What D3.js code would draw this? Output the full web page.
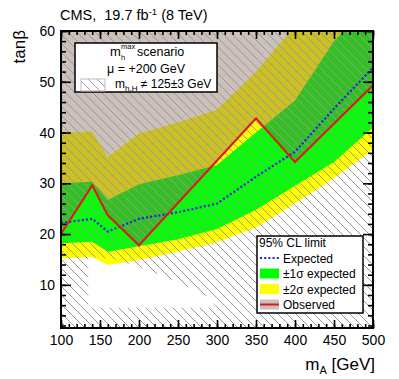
<!DOCTYPE html>
<html>
<head>
<meta charset="utf-8">
<script src="https://cdn.jsdelivr.net/npm/d3@7"></script>
<style>
  body { margin: 0; background: white; }
  text { font-family: "Liberation Sans", Arial, sans-serif; white-space: pre; }
</style>
</head>
<body>
<script>
// mA points of the expected limit and its bands
const massPoints = [100, 140, 160, 200, 250, 300, 350, 400, 450, 500];
const expected = [22.2, 23.0, 20.5, 23.0, 24.3, 26.0, 31.3, 36.2, 44.7, 52.8];
const sigma1Low = [18.2, 18.5, 16.5, 17.6, 19.0, 21.0, 24.8, 29.5, 34.2, 41.0];
const sigma1High = [30.0, 30.3, 26.7, 29.8, 31.6, 33.6, 40.0, 46.3, 58.0, 66.0];
const sigma2Low = [15.2, 15.5, 13.9, 14.9, 16.5, 18.4, 21.3, 26.0, 31.0, 36.6];
const sigma2High = [39.9, 40.2, 35.2, 39.8, 42.0, 44.5, 52.0, 61.0, 70.0, 80.0];

// observed limit
const obsMass = [100, 140, 160, 200, 350, 400, 500];
const observed = [20.0, 29.6, 23.7, 17.8, 42.8, 34.2, 49.3];

// region where m_h or m_H is compatible with 125+-3 GeV (not hatched)
const allowedMass = [135, 135, 170, 200, 250, 290, 300];
const allowedTan = [5.5, 15.5, 15.0, 13.5, 10.5, 7.5, 5.5];

const xMajor = [100, 150, 200, 250, 300, 350, 400, 450, 500];
const yMajor = [10, 20, 30, 40, 50, 60];

const w = 399;
const h = 379;
const padL = 61, padR = 373, padT = 31, padB = 328;

const x = d3.scaleLinear().domain([100, 500]).range([padL, padR]);
const y = d3.scaleLinear().domain([1.5, 60]).range([padB, padT]);

const svg = d3.select("body").append("svg")
  .attr("width", w)
  .attr("height", h);

const defs = svg.append("defs");
defs.append("clipPath").attr("id", "plot")
  .append("rect")
  .attr("x", padL).attr("y", padT)
  .attr("width", padR - padL).attr("height", padB - padT);

const pat = defs.append("pattern")
  .attr("id", "hatch")
  .attr("patternUnits", "userSpaceOnUse")
  .attr("width", 9).attr("height", 9);
pat.append("path")
  .attr("d", "M-1,-1 L10,10 M-1,8 L1,10 M8,-1 L10,1")
  .attr("stroke", "#999999")
  .attr("stroke-width", 1);

const bands = massPoints.map((m, i) => ({
  m: m,
  exp: expected[i],
  lo1: sigma1Low[i], hi1: sigma1High[i],
  lo2: sigma2Low[i], hi2: sigma2High[i],
}));

const plot = svg.append("g").attr("clip-path", "url(#plot)");

plot.append("rect")
  .attr("x", padL).attr("y", padT)
  .attr("width", padR - padL).attr("height", padB - padT)
  .attr("fill", "white");

const area2 = d3.area().x(d => x(d.m)).y0(d => y(d.lo2)).y1(d => y(d.hi2));
const area1 = d3.area().x(d => x(d.m)).y0(d => y(d.lo1)).y1(d => y(d.hi1));

plot.append("path").attr("d", area2(bands)).attr("fill", "#ffff00");
plot.append("path").attr("d", area1(bands)).attr("fill", "#00ff00");

// observed excluded region: everything above the observed line
const obsPts = obsMass.map((m, i) => [x(m), y(observed[i])]);
const obsRegion = [[x(100), y(100)]].concat(obsPts, [[x(500), y(100)]]);
plot.append("path")
  .attr("d", d3.line()(obsRegion) + "Z")
  .attr("fill", "rgb(127,97,85)")
  .attr("fill-opacity", 0.4);

// hatch everywhere except the allowed region
const allowedPts = allowedMass.map((m, i) => [x(m), y(allowedTan[i])]);
const frame = `M${padL},${padT}H${padR}V${padB}H${padL}Z`;
plot.append("path")
  .attr("d", frame + d3.line()(allowedPts) + "Z")
  .attr("fill-rule", "evenodd")
  .attr("fill", "url(#hatch)");

plot.append("path")
  .attr("d", d3.line().x(d => x(d.m)).y(d => y(d.exp))(bands))
  .attr("fill", "none")
  .attr("stroke", "#2020e8")
  .attr("stroke-width", 2.2)
  .attr("stroke-dasharray", "2,2.2");

plot.append("path")
  .attr("d", d3.line()(obsPts))
  .attr("fill", "none")
  .attr("stroke", "#e0161c")
  .attr("stroke-width", 2);

// axes with inward ticks on all four sides
function styleAxis(g) {
  g.select(".domain").remove();
  g.selectAll("line").attr("stroke", "black").attr("stroke-width", 1.6);
  g.selectAll("text")
    .attr("font-size", 14)
    .attr("font-family", "Liberation Sans, Arial, sans-serif")
    .attr("fill", "black");
}

svg.append("g")
  .attr("transform", `translate(0,${padB})`)
  .call(d3.axisBottom(x).tickValues(d3.range(100, 501, 10)).tickSize(-4).tickFormat(""))
  .call(styleAxis);
svg.append("g")
  .attr("transform", `translate(0,${padB})`)
  .call(d3.axisBottom(x).tickValues(xMajor).tickSize(-8).tickPadding(7).tickFormat(d3.format("d")))
  .call(styleAxis);
svg.append("g")
  .attr("transform", `translate(0,${padT})`)
  .call(d3.axisTop(x).tickValues(d3.range(100, 501, 10)).tickSize(-4).tickFormat(""))
  .call(styleAxis);
svg.append("g")
  .attr("transform", `translate(0,${padT})`)
  .call(d3.axisTop(x).tickValues(xMajor).tickSize(-8).tickFormat(""))
  .call(styleAxis);

svg.append("g")
  .attr("transform", `translate(${padL},0)`)
  .call(d3.axisLeft(y).tickValues(d3.range(2, 61, 2)).tickSize(-5).tickFormat(""))
  .call(styleAxis);
svg.append("g")
  .attr("transform", `translate(${padL},0)`)
  .call(d3.axisLeft(y).tickValues(yMajor).tickSize(-10).tickPadding(6).tickFormat(d3.format("d")))
  .call(styleAxis);
svg.append("g")
  .attr("transform", `translate(${padR},0)`)
  .call(d3.axisRight(y).tickValues(d3.range(2, 61, 2)).tickSize(-5).tickFormat(""))
  .call(styleAxis);
svg.append("g")
  .attr("transform", `translate(${padR},0)`)
  .call(d3.axisRight(y).tickValues(yMajor).tickSize(-10).tickFormat(""))
  .call(styleAxis);

svg.append("rect")
  .attr("x", padL).attr("y", padT)
  .attr("width", padR - padL).attr("height", padB - padT)
  .attr("fill", "none")
  .attr("stroke", "black")
  .attr("stroke-width", 2);

// titles
const title = svg.append("text").attr("x", 60).attr("y", 20).attr("font-size", 14.5);
title.append("tspan").text("CMS,  19.7 fb");
title.append("tspan").attr("font-size", 9.5).attr("dy", -5).text("-1");
title.append("tspan").attr("dy", 5).text(" (8 TeV)");

svg.append("text")
  .attr("transform", "translate(25,30) rotate(-90)")
  .attr("text-anchor", "end")
  .attr("font-size", 17)
  .text("tanβ");

const xl = svg.append("text")
  .attr("x", 375).attr("y", 370)
  .attr("text-anchor", "end")
  .attr("font-size", 17);
xl.append("tspan").text("m");
xl.append("tspan").attr("font-size", 11).attr("dy", 4).text("A");
xl.append("tspan").attr("dy", -4).text(" [GeV]");

// top-left legend
const lg1 = svg.append("g");
lg1.append("rect")
  .attr("x", 75).attr("y", 43).attr("width", 142).attr("height", 49)
  .attr("fill", "white").attr("stroke", "black").attr("stroke-width", 1.5);
lg1.append("text").attr("x", 110).attr("y", 56).attr("font-size", 13).text("m");
lg1.append("text").attr("x", 121).attr("y", 49).attr("font-size", 7.5).text("max");
lg1.append("text").attr("x", 121).attr("y", 60).attr("font-size", 7.5).text("h");
lg1.append("text").attr("x", 137).attr("y", 56).attr("font-size", 12.5).text("scenario");
lg1.append("text").attr("x", 146).attr("y", 73).attr("font-size", 12.5)
  .attr("text-anchor", "middle").text("μ = +200 GeV");
lg1.append("rect")
  .attr("x", 81).attr("y", 79).attr("width", 24).attr("height", 12)
  .attr("fill", "url(#hatch)").attr("stroke", "#bbbbbb").attr("stroke-width", 1);
const mh = lg1.append("text").attr("x", 115).attr("y", 88).attr("font-size", 12);
mh.append("tspan").text("m");
mh.append("tspan").attr("font-size", 8).attr("dy", 3).text("h,H");
mh.append("tspan").attr("dy", -3).text(" ≠ 125±3 GeV");

// bottom-right legend
const lg2 = svg.append("g");
lg2.append("rect")
  .attr("x", 257).attr("y", 236).attr("width", 106).attr("height", 77)
  .attr("fill", "white").attr("stroke", "black").attr("stroke-width", 1.5);
lg2.append("text").attr("x", 259).attr("y", 247).attr("font-size", 12).text("95% CL limit");

const entries = ["Expected", "±1σ expected", "±2σ expected", "Observed"];
entries.forEach((label, i) => {
  const yy = 258 + i * 15.5;
  if (i === 0) {
    lg2.append("line")
      .attr("x1", 260).attr("x2", 279).attr("y1", yy).attr("y2", yy)
      .attr("stroke", "#2020e8").attr("stroke-width", 2.2)
      .attr("stroke-dasharray", "2,2.2");
  } else {
    const fills = ["", "#00ff00", "#ffff00", "#cbbfbb"];
    lg2.append("rect")
      .attr("x", 260).attr("y", yy - 5).attr("width", 19).attr("height", 10)
      .attr("fill", fills[i]);
    if (i === 3) {
      lg2.append("line")
        .attr("x1", 260).attr("x2", 279).attr("y1", yy).attr("y2", yy)
        .attr("stroke", "#e0161c").attr("stroke-width", 2);
    }
  }
  lg2.append("text").attr("x", 283).attr("y", yy + 4.5).attr("font-size", 12).text(label);
});
</script>
</body>
</html>
